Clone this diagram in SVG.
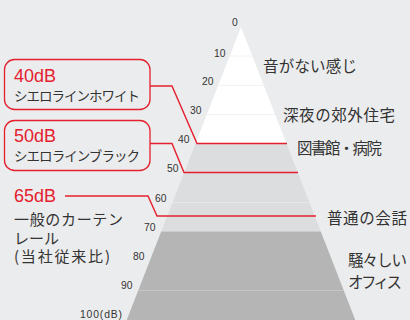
<svg xmlns="http://www.w3.org/2000/svg" width="410" height="320" viewBox="0 0 410 320">
<defs>
<style>
.jp{font-family:"Noto Sans CJK JP","Noto Sans",sans-serif;fill:#333;}
.big{font-size:15.5px;}
.mid{font-size:15px;}
.sm{font-size:13.5px;}
.red{font-family:"Liberation Sans",Arial,sans-serif;font-size:18px;fill:#e5202e;}
.num{font-family:"Liberation Sans",Arial,sans-serif;font-size:10.3px;fill:#333;}
.box{fill:none;stroke:#e5202e;stroke-width:1.3;}
.conn{fill:none;stroke:#e5202e;stroke-width:1.4;}
.faint{stroke-width:1;}
</style>
<clipPath id="tri"><polygon points="241,27 126.7,320 355.3,320"/></clipPath>
</defs>
<rect width="410" height="320" fill="#ebeced"/>
<g id="pyramid" clip-path="url(#tri)">
<rect x="100" y="20" width="300" height="123.5" fill="#ffffff"/>
<rect x="100" y="143.5" width="300" height="88" fill="#dcdddf"/>
<rect x="100" y="231.5" width="300" height="90" fill="#b5b5b5"/>
<g class="faint">
<line x1="100" y1="56" x2="400" y2="56" stroke="#f2f2f2"/>
<line x1="100" y1="85.5" x2="400" y2="85.5" stroke="#f2f2f2"/>
<line x1="100" y1="114.5" x2="400" y2="114.5" stroke="#f2f2f2"/>
<line x1="100" y1="202.5" x2="400" y2="202.5" stroke="#e6e7e8"/>
<line x1="100" y1="290.5" x2="400" y2="290.5" stroke="#c6c6c6"/>
</g>
</g>
<g id="scale">
<text class="num" x="232" y="26">0</text>
<text class="num" x="214" y="57">10</text>
<text class="num" x="202" y="85">20</text>
<text class="num" x="190" y="114">30</text>
<text class="num" x="178" y="143">40</text>
<text class="num" x="167" y="172">50</text>
<text class="num" x="155" y="202">60</text>
<text class="num" x="144" y="231">70</text>
<text class="num" x="133" y="260">80</text>
<text class="num" x="121" y="289">90</text>
<text class="num" x="80" y="318" textLength="42">100(dB)</text>
</g>
<g id="connectors">
<polyline class="conn" points="150,86 172,86 197,143.5 287,143.5"/>
<polyline class="conn" points="150,143.5 172,143.5 184,172.5 298,172.5"/>
<polyline class="conn" points="65,196 148,196 157,216 316,216"/>
</g>
<g id="node-40db">
<rect class="box" x="4.5" y="59.5" width="145.5" height="50" rx="10"/>
<text class="red" x="14" y="82">40dB</text>
<text class="jp sm" x="14" y="101" textLength="126">シエロラインホワイト</text>
</g>
<g id="node-50db">
<rect class="box" x="4.5" y="120.5" width="145.5" height="50" rx="10"/>
<text class="red" x="14" y="142">50dB</text>
<text class="jp sm" x="14" y="161" textLength="126">シエロラインブラック</text>
</g>
<g id="node-65db">
<text class="red" x="14" y="202">65dB</text>
<text class="jp mid" x="14" y="225" textLength="109">一般のカーテン</text>
<text class="jp mid" x="14" y="243.5">レール</text>
<text class="jp mid" x="14" y="262" textLength="96">(当社従来比)</text>
</g>
<g id="labels">
<text class="jp big" x="263" y="72" textLength="94">音がない感じ</text>
<text class="jp big" x="283" y="121" textLength="112">深夜の郊外住宅</text>
<text class="jp big" x="297" y="154" textLength="85">図書館・病院</text>
<text class="jp big" x="327" y="224" textLength="80">普通の会話</text>
<text class="jp big" x="348" y="266" textLength="59">騒々しい</text>
<text class="jp big" x="348" y="288" textLength="54">オフィス</text>
</g>
</svg>
